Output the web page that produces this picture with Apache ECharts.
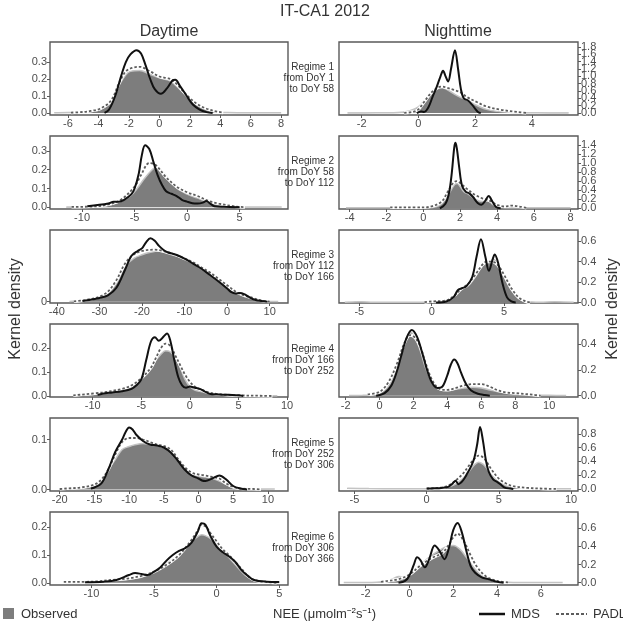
<!DOCTYPE html>
<html><head><meta charset="utf-8">
<script src="https://cdn.jsdelivr.net/npm/echarts@6/dist/echarts.min.js"></script>
<style>html,body{margin:0;padding:0;background:#fff}#c{width:623px;height:628px}</style>
</head><body><div id="c"></div>
<script>
// ---------- DATA ----------
const REGIME_DOY = [[1,58],[58,112],[112,166],[166,252],[252,306],[306,366]];

// Daytime, regime 1
const L1_obs = [[-6.9,0.001],[-6,0.002],[-5,0.005],[-4.5,0.01],[-3.9,0.02],[-3.2,0.06],[-2.6,0.17],[-2.2,0.225],[-1.9,0.245],[-1.3,0.25],[-0.6,0.228],[0,0.207],[0.7,0.19],[1.1,0.16],[1.8,0.1],[2.45,0.05],[3.1,0.024],[3.8,0.006],[4.5,0.002],[6,0.001],[8,0.001]];
const L1_padl = [[-5.8,0.002],[-5,0.006],[-4.5,0.012],[-3.9,0.025],[-3.2,0.07],[-2.6,0.185],[-2.2,0.245],[-1.8,0.265],[-1.3,0.272],[-0.6,0.245],[0,0.215],[0.5,0.205],[0.8,0.197],[1.2,0.165],[1.8,0.105],[2.45,0.055],[3.1,0.025],[3.8,0.008],[4.2,0.002]];
const L1_mds = [[-3.6,0],[-3.3,0.02],[-2.9,0.1],[-2.5,0.22],[-2.2,0.3],[-1.9,0.345],[-1.5,0.37],[-1.2,0.35],[-0.9,0.28],[-0.6,0.2],[-0.3,0.14],[0.1,0.113],[0.5,0.145],[0.85,0.19],[1.05,0.195],[1.35,0.16],[1.8,0.1],[2.2,0.05],[2.65,0.02],[3.1,0.005],[3.5,0]];
// Nighttime, regime 1
const R1_obs = [[-2.5,0.003],[-1.5,0.004],[-0.9,0.008],[-0.6,0.02],[-0.3,0.06],[0,0.17],[0.3,0.42],[0.55,0.64],[0.75,0.73],[0.9,0.68],[1.1,0.6],[1.3,0.5],[1.5,0.42],[1.7,0.36],[2.0,0.23],[2.4,0.1],[2.8,0.045],[3.2,0.02],[3.6,0.008],[4.2,0.004],[5.3,0.003]];
const R1_padl = [[-0.5,0.005],[-0.2,0.03],[0,0.1],[0.2,0.3],[0.45,0.55],[0.7,0.7],[0.85,0.72],[1.0,0.69],[1.25,0.63],[1.47,0.57],[1.7,0.44],[2.06,0.3],[2.4,0.18],[2.9,0.09],[3.5,0.03],[3.8,0.005]];
const R1_mds = [[-0.05,0],[0.1,0.04],[0.2,0.03],[0.35,0.15],[0.5,0.44],[0.65,0.72],[0.78,1.0],[0.87,1.15],[0.96,1.0],[1.05,0.86],[1.15,1.2],[1.29,1.71],[1.4,1.2],[1.5,0.65],[1.6,0.4],[1.75,0.34],[1.9,0.22],[2.0,0.12],[2.1,0.03],[2.2,0]];
// Daytime, regime 2
const L2_obs = [[-11.5,0.001],[-10,0.002],[-8.25,0.005],[-7.3,0.015],[-6.35,0.03],[-5.4,0.06],[-4.76,0.1],[-4.1,0.15],[-3.33,0.2],[-2.9,0.215],[-2.2,0.18],[-1.6,0.14],[-0.95,0.1],[0,0.07],[0.95,0.05],[1.9,0.03],[2.86,0.015],[4.1,0.005],[5.1,0.002],[7,0.001],[9,0.001]];
const L2_padl = [[-11,0.002],[-8.5,0.006],[-7.3,0.018],[-6.3,0.04],[-5,0.11],[-4.4,0.17],[-3.6,0.235],[-3,0.225],[-2,0.16],[-1,0.11],[0,0.08],[1,0.06],[2,0.035],[3,0.02],[4.5,0.005],[5.5,0.001]];
const L2_mds = [[-9.5,0.005],[-7.5,0.02],[-7,0.03],[-6.5,0.03],[-6,0.04],[-5.3,0.07],[-5,0.1],[-4.6,0.18],[-4.3,0.28],[-4.0,0.33],[-3.6,0.31],[-3.2,0.24],[-2.8,0.17],[-2.4,0.12],[-2.0,0.085],[-1.5,0.072],[-1,0.06],[-0.5,0.04],[0,0.03],[0.5,0.022],[1,0.02],[1.5,0.025],[1.8,0.033],[2.2,0.02],[2.6,0.006],[3.5,0.003],[5,0]];
// Nighttime, regime 2
const R2_obs = [[-4.2,0.01],[-2,0.01],[0,0.01],[0.5,0.02],[0.9,0.07],[1.2,0.2],[1.5,0.4],[1.7,0.53],[1.85,0.55],[2.0,0.48],[2.2,0.37],[2.5,0.3],[2.8,0.2],[3.2,0.15],[3.5,0.17],[3.8,0.08],[4.2,0.03],[4.6,0.01],[6,0.01],[8,0.01]];
const R2_padl = [[-1.8,0.02],[0,0.02],[0.5,0.05],[1.0,0.15],[1.3,0.35],[1.6,0.55],[1.8,0.6],[2.0,0.56],[2.4,0.42],[2.8,0.3],[3.2,0.22],[3.6,0.17],[4.0,0.08],[4.4,0.04],[4.8,0.06],[5.2,0.04],[5.6,0.01]];
const R2_mds = [[0.9,0],[1.2,0.1],[1.4,0.35],[1.55,0.8],[1.68,1.35],[1.75,1.45],[1.83,1.3],[1.95,0.9],[2.1,0.5],[2.3,0.37],[2.5,0.33],[2.7,0.25],[2.95,0.12],[3.15,0.08],[3.35,0.16],[3.55,0.27],[3.75,0.15],[3.95,0.03],[4.2,0]];
// Daytime, regime 3
const L3_obs = [[-37,0.0002],[-33,0.0013],[-30,0.003],[-28,0.0066],[-26,0.0145],[-24,0.0276],[-22,0.034],[-20,0.037],[-18,0.039],[-16,0.040],[-14,0.038],[-12,0.036],[-10,0.034],[-8,0.030],[-6,0.027],[-4,0.022],[-2,0.017],[0,0.0126],[2,0.007],[4,0.005],[6,0.0026],[8,0.001],[10,0.0002],[12,0.0001]];
const L3_padl = [[-36,0.0003],[-33,0.0015],[-30,0.004],[-28,0.008],[-26,0.017],[-24,0.03],[-22,0.037],[-20,0.040],[-17,0.041],[-14,0.039],[-12,0.037],[-10,0.034],[-8,0.031],[-6,0.027],[-4,0.023],[-2,0.018],[0,0.013],[2,0.008],[4,0.005],[6,0.003],[8,0.001],[10,0]];
const L3_mds = [[-34,0.0005],[-30,0.003],[-28,0.005],[-26,0.011],[-24,0.025],[-22.5,0.036],[-21,0.04],[-20,0.042],[-19,0.047],[-18,0.05],[-17,0.048],[-16,0.044],[-15,0.041],[-14,0.039],[-12,0.037],[-10,0.034],[-8,0.030],[-6,0.026],[-4,0.021],[-2,0.016],[0,0.0105],[1,0.0075],[2,0.0065],[3,0.0068],[4,0.006],[5,0.004],[6,0.0022],[8,0.0005],[9.5,0]];
// Nighttime, regime 3
const R3_obs = [[-6,0.003],[-5,0.008],[-4,0.003],[-2,0.002],[0,0.005],[1,0.02],[1.5,0.06],[2,0.13],[2.5,0.16],[3,0.25],[3.5,0.36],[4,0.4],[4.3,0.42],[4.6,0.35],[5,0.25],[5.5,0.12],[6,0.04],[6.5,0.01],[7.5,0.003],[8.5,0.008],[9.8,0.003]];
const R3_padl = [[-0.5,0.003],[0,0.01],[1,0.02],[1.5,0.06],[2,0.13],[2.5,0.18],[3,0.27],[3.5,0.37],[3.8,0.4],[4.2,0.4],[4.6,0.36],[5,0.27],[5.5,0.14],[6,0.05],[6.5,0.01],[6.8,0]];
const R3_mds = [[0.3,0],[1,0.01],[1.5,0.05],[1.8,0.12],[2.1,0.14],[2.4,0.16],[2.8,0.25],[3.1,0.45],[3.4,0.62],[3.7,0.45],[3.95,0.31],[4.2,0.42],[4.35,0.47],[4.6,0.38],[4.9,0.18],[5.2,0.05],[5.5,0.01],[5.8,0]];
// Daytime, regime 4
const L4_obs = [[-12,0.002],[-11,0.004],[-9,0.01],[-7,0.025],[-6,0.04],[-5,0.07],[-4.5,0.1],[-4,0.12],[-3.5,0.15],[-3,0.175],[-2.5,0.19],[-2,0.185],[-1.5,0.16],[-1,0.12],[-0.5,0.07],[0,0.04],[0.5,0.025],[1,0.02],[2,0.01],[3,0.005],[5,0.002],[8,0.001],[9,0.001]];
const L4_padl = [[-12,0.003],[-9,0.015],[-7,0.03],[-6,0.045],[-5,0.075],[-4,0.12],[-3.5,0.16],[-3,0.2],[-2.5,0.22],[-2,0.21],[-1.5,0.17],[-1,0.13],[-0.5,0.09],[0,0.06],[0.5,0.04],[1,0.03],[2,0.015],[3,0.008],[5,0.003],[7.5,0.001],[8.5,0]];
const L4_mds = [[-9.5,0.005],[-9,0.01],[-8,0.015],[-7,0.02],[-6,0.03],[-5.5,0.045],[-5,0.07],[-4.5,0.15],[-4,0.23],[-3.6,0.247],[-3.2,0.232],[-2.7,0.25],[-2.35,0.263],[-2,0.23],[-1.6,0.15],[-1.2,0.08],[-0.8,0.045],[-0.4,0.035],[0,0.04],[0.5,0.035],[1,0.03],[1.5,0.02],[2,0.01],[3,0.007],[4,0.005],[5,0.003],[5.5,0]];
// Nighttime, regime 4
const R4_obs = [[-1.8,0.002],[-1,0.003],[-0.5,0.005],[0,0.02],[0.5,0.07],[1,0.2],[1.3,0.33],[1.6,0.44],[1.85,0.49],[2.1,0.45],[2.4,0.35],[2.7,0.22],[3,0.13],[3.3,0.07],[3.6,0.045],[4,0.04],[4.5,0.05],[5,0.06],[5.5,0.065],[6,0.06],[6.5,0.045],[7,0.03],[8,0.015],[9,0.008],[10,0.003],[11,0.001]];
const R4_padl = [[-0.7,0.01],[0,0.03],[0.5,0.1],[1,0.24],[1.5,0.42],[1.8,0.47],[2.1,0.45],[2.4,0.38],[2.7,0.26],[3,0.15],[3.3,0.08],[3.6,0.05],[4,0.045],[4.5,0.06],[5,0.08],[5.5,0.09],[6,0.09],[6.5,0.07],[7,0.04],[7.5,0.025],[8,0.02],[9,0.008],[9.5,0]];
const R4_mds = [[-0.2,0],[0.3,0.02],[0.7,0.08],[1,0.18],[1.3,0.32],[1.6,0.45],[1.9,0.51],[2.2,0.46],[2.5,0.34],[2.8,0.2],[3.1,0.1],[3.4,0.06],[3.7,0.07],[4,0.16],[4.2,0.24],[4.4,0.28],[4.6,0.25],[4.8,0.18],[5.1,0.09],[5.4,0.04],[5.8,0.015],[6.2,0.005],[6.5,0]];
// Daytime, regime 5
const L5_obs = [[-20,0.001],[-17,0.002],[-15,0.008],[-14,0.02],[-13,0.04],[-12,0.06],[-11,0.08],[-10,0.086],[-9,0.09],[-8,0.092],[-7,0.09],[-6,0.088],[-5,0.084],[-4,0.076],[-3,0.062],[-2,0.045],[-1,0.033],[0,0.027],[1,0.025],[2,0.022],[3,0.017],[4,0.01],[5,0.004],[6,0.001],[8,0.001],[11,0.001]];
const L5_padl = [[-20,0.001],[-19,0.002],[-17,0.004],[-15,0.01],[-14,0.02],[-13,0.04],[-12,0.07],[-11,0.095],[-10,0.103],[-9,0.103],[-8,0.1],[-7,0.095],[-6,0.09],[-5,0.087],[-4,0.08],[-3,0.062],[-2,0.045],[-1,0.034],[0,0.03],[1,0.028],[2,0.025],[3,0.022],[4,0.012],[5,0.005],[6,0.002],[8,0.001],[9,0]];
const L5_mds = [[-15.5,0.002],[-15,0.004],[-14,0.012],[-13,0.04],[-12,0.075],[-11,0.1],[-10.5,0.115],[-10,0.124],[-9.5,0.12],[-9,0.11],[-8,0.097],[-7,0.09],[-6,0.088],[-5,0.084],[-4,0.074],[-3,0.058],[-2,0.04],[-1,0.028],[0,0.022],[0.5,0.018],[1,0.017],[2,0.022],[3,0.028],[4,0.02],[5,0.007],[6,0.002],[7,0]];
// Nighttime, regime 5
const R5_obs = [[-5.5,0.01],[-4,0.005],[-2,0.003],[0,0.003],[1,0.01],[1.5,0.03],[2,0.07],[2.5,0.15],[3,0.27],[3.3,0.35],[3.6,0.39],[3.9,0.36],[4.2,0.29],[4.5,0.2],[5,0.1],[5.5,0.05],[6,0.025],[7,0.01],[8,0.005],[9,0.003],[10,0.002]];
const R5_padl = [[0,0.005],[1,0.02],[1.5,0.05],[2,0.12],[2.5,0.22],[3,0.36],[3.3,0.44],[3.6,0.485],[3.9,0.46],[4.2,0.38],[4.5,0.28],[5,0.15],[5.5,0.08],[6,0.04],[7,0.015],[8,0.005],[9,0]];
const R5_mds = [[0,0.005],[0.5,0.01],[1,0.015],[1.5,0.03],[1.8,0.08],[2.0,0.12],[2.2,0.07],[2.5,0.12],[2.8,0.22],[3.1,0.34],[3.3,0.45],[3.5,0.65],[3.7,0.9],[3.9,0.7],[4.1,0.42],[4.3,0.25],[4.6,0.14],[4.9,0.1],[5.1,0.07],[5.4,0.02],[5.8,0.005],[6,0]];
// Daytime, regime 6
const L6_obs = [[-12,0.001],[-10,0.002],[-8,0.008],[-7,0.014],[-6,0.02],[-5,0.04],[-4,0.07],[-3,0.1],[-2.5,0.125],[-2,0.15],[-1.5,0.167],[-1.2,0.173],[-1,0.172],[-0.5,0.16],[0,0.14],[0.5,0.115],[1,0.09],[1.5,0.065],[2,0.04],[2.5,0.02],[3,0.01],[4,0.003],[5,0.001]];
const L6_padl = [[-12.2,0.003],[-10,0.004],[-8,0.012],[-7,0.016],[-6,0.025],[-5,0.04],[-4,0.065],[-3,0.1],[-2,0.155],[-1.5,0.19],[-1.2,0.21],[-0.8,0.2],[-0.5,0.18],[0,0.15],[0.5,0.12],[1,0.1],[1.5,0.075],[2,0.05],[2.5,0.025],[3,0.01],[4,0.003],[4.8,0]];
const L6_mds = [[-10.5,0.002],[-9,0.004],[-8,0.01],[-7,0.028],[-6.5,0.035],[-6,0.032],[-5.5,0.028],[-5,0.04],[-4.5,0.055],[-4,0.08],[-3.5,0.1],[-3,0.115],[-2.5,0.125],[-2,0.145],[-1.5,0.185],[-1.2,0.215],[-0.9,0.21],[-0.5,0.17],[0,0.13],[0.5,0.11],[1,0.095],[1.5,0.075],[2,0.045],[2.5,0.025],[3,0.01],[4,0.004],[5,0.003]];
// Nighttime, regime 6
const R6_obs = [[-3,0.003],[-2,0.003],[-1.5,0.005],[-1,0.02],[-0.7,0.05],[-0.5,0.07],[-0.2,0.06],[0,0.08],[0.3,0.15],[0.6,0.22],[1,0.3],[1.4,0.36],[1.7,0.4],[2,0.41],[2.3,0.37],[2.6,0.28],[2.9,0.18],[3.2,0.1],[3.6,0.04],[4,0.015],[4.5,0.005],[5,0.002],[7,0.002]];
const R6_padl = [[-1.3,0.01],[-1,0.02],[-0.5,0.04],[0,0.09],[0.5,0.19],[1,0.27],[1.5,0.33],[1.8,0.42],[2.0,0.5],[2.2,0.54],[2.5,0.45],[2.8,0.3],[3.1,0.17],[3.5,0.07],[4,0.02],[4.5,0.005]];
const R6_mds = [[-0.5,0],[-0.2,0.02],[0,0.08],[0.2,0.2],[0.35,0.28],[0.5,0.25],[0.7,0.17],[0.9,0.26],[1.15,0.41],[1.35,0.36],[1.6,0.26],[1.8,0.38],[2.0,0.58],[2.2,0.66],[2.4,0.55],[2.6,0.35],[2.8,0.18],[3.0,0.11],[3.3,0.06],[3.6,0.04],[4,0.01],[4.3,0]];

// tick labels
const L1_xt=[-6,-4,-2,0,2,4,6,8], L1_yt=[0,0.1,0.2,0.3];
const R1_xt=[-2,0,2,4], R1_yt=[0,0.2,0.4,0.6,0.8,1.0,1.2,1.4,1.6,1.8];
const L2_xt=[-10,-5,0,5], L2_yt=[0,0.1,0.2,0.3];
const R2_xt=[-4,-2,0,2,4,6,8], R2_yt=[0,0.2,0.4,0.6,0.8,1.0,1.2,1.4];
const L3_xt=[-40,-30,-20,-10,0,10], L3_yt=[0];
const R3_xt=[-5,0,5], R3_yt=[0,0.2,0.4,0.6];
const L4_xt=[-10,-5,0,5,10], L4_yt=[0,0.1,0.2];
const R4_xt=[-2,0,2,4,6,8,10], R4_yt=[0,0.2,0.4];
const L5_xt=[-20,-15,-10,-5,0,5,10], L5_yt=[0,0.1];
const R5_xt=[-5,0,5,10], R5_yt=[0,0.2,0.4,0.6,0.8];
const L6_xt=[-10,-5,0,5], L6_yt=[0,0.1,0.2];
const R6_xt=[-2,0,2,4,6], R6_yt=[0,0.2,0.4,0.6];

// axis ranges
const X_RANGE = {L1:[-7.18,8.45],R1:[-2.8,5.63],L2:[-13.05,9.6],R2:[-4.58,8.4],L3:[-41.6,14.3],R3:[-6.4,10.1],L4:[-14.4,10.1],R4:[-2.39,11.7],L5:[-21.4,12.9],R5:[-6.07,10.48],L6:[-13.3,5.7],R6:[-3.22,7.7]};
const Y_RANGE = {L1:[-0.012,0.418],R1:[-0.054,1.935],L2:[-0.009,0.379],R2:[-0.015,1.6],L3:[-0.001,0.0565],R3:[-0.005,0.71],L4:[-0.004,0.3025],R4:[-0.01,0.556],L5:[-0.003,0.143],R5:[-0.03,1.032],L6:[-0.008,0.2555],R6:[-0.025,0.78]};

const PANELS = [
 ['L1',L1_obs,L1_padl,L1_mds,L1_xt,L1_yt],['R1',R1_obs,R1_padl,R1_mds,R1_xt,R1_yt],
 ['L2',L2_obs,L2_padl,L2_mds,L2_xt,L2_yt],['R2',R2_obs,R2_padl,R2_mds,R2_xt,R2_yt],
 ['L3',L3_obs,L3_padl,L3_mds,L3_xt,L3_yt],['R3',R3_obs,R3_padl,R3_mds,R3_xt,R3_yt],
 ['L4',L4_obs,L4_padl,L4_mds,L4_xt,L4_yt],['R4',R4_obs,R4_padl,R4_mds,R4_xt,R4_yt],
 ['L5',L5_obs,L5_padl,L5_mds,L5_xt,L5_yt],['R5',R5_obs,R5_padl,R5_mds,R5_xt,R5_yt],
 ['L6',L6_obs,L6_padl,L6_mds,L6_xt,L6_yt],['R6',R6_obs,R6_padl,R6_mds,R6_xt,R6_yt]
];

// ---------- CHART ----------
const FONT = '"Liberation Sans", Arial, sans-serif';
const TXT = '#4d4d4d';
const grids=[], xAxes=[], yAxes=[], extraY=[], series=[], graphics=[];
const ROW_TOP = 42, ROW_STEP = 94, PH = 73;
function yAxisDef(i, id, right, vals) {
  return {type:'value', gridIndex:i, position: right ? 'right' : 'left',
    min:Y_RANGE[id][0], max:Y_RANGE[id][1],
    axisLine:{show:false, onZero:false}, splitLine:{show:false},
    axisTick:{show:true, length:3, customValues:vals, lineStyle:{color:'#5a5a5a'}},
    axisLabel:{customValues:vals, fontSize:11, color:TXT, margin:3, fontFamily:FONT, hideOverlap:false, showMinLabel:true, showMaxLabel:true,
      formatter: v => (id === 'L3' ? String(Math.round(v)) : Number(v).toFixed(1))}};
}
PANELS.forEach((p, i) => {
  const [id, obs, padl, mds, xt, yt] = p;
  const right = id[0] === 'R';
  const row = +id[1] - 1;
  const top = ROW_TOP + row * ROW_STEP;
  const dense = yt.length > 6;
  grids.push({left: right ? 339 : 50, top: top, width: right ? 239 : 238, height: PH,
    show: true, borderColor: '#5a5a5a', borderWidth: 1.4, backgroundColor: '#fff'});
  xAxes.push({type:'value', gridIndex:i, min:X_RANGE[id][0], max:X_RANGE[id][1], position:'bottom',
    axisLine:{show:false, onZero:false}, splitLine:{show:false},
    axisTick:{show:true, length:3, customValues:xt, lineStyle:{color:'#5a5a5a'}},
    axisLabel:{customValues:xt, fontSize:11, color:TXT, margin:3, fontFamily:FONT, hideOverlap:false, showMinLabel:true, showMaxLabel:true}});
  if (dense) {
    // crowded tick labels: split between two coincident axes so none are dropped
    yAxes.push(yAxisDef(i, id, right, yt.filter((v, k) => k % 2 === 0)));
    extraY.push(yAxisDef(i, id, right, yt.filter((v, k) => k % 2 === 1)));
  } else {
    yAxes.push(yAxisDef(i, id, right, yt));
  }
  const base = {type:'line', xAxisIndex:i, yAxisIndex:i, showSymbol:false, smooth:0.35, silent:true, animation:false};
  series.push(Object.assign({}, base, {name:'Observed', data:obs,
    lineStyle:{color:'#c4c4c4', width:1.5}, areaStyle:{color:'#7d7d7d', opacity:1}}));
  series.push(Object.assign({}, base, {name:'PADL_bg', data:padl,
    lineStyle:{color:'#ffffff', width:3.2}}));
  series.push(Object.assign({}, base, {name:'PADL', data:padl,
    lineStyle:{color:'#5c5c5c', width:1.8, type:[2.5,2]}}));
  series.push(Object.assign({}, base, {name:'MDS', data:mds,
    lineStyle:{color:'#111', width:2}}));
  // regime label
  const cy = top + PH / 2;
  const lines = ['Regime ' + (row + 1), 'from DoY ' + REGIME_DOY[row][0], 'to DoY ' + REGIME_DOY[row][1]];
  if (!right) lines.forEach((t, k) => graphics.push({type:'text', x:334, y:cy + (k - 1) * 11,
    style:{text:t, fill:'#333', font:'10px ' + FONT, align:'right', verticalAlign:'middle'}}));
});

graphics.push(
  {type:'text', x:325, y:12, style:{text:'IT-CA1 2012', fill:'#333', font:'16px ' + FONT, align:'center', verticalAlign:'middle'}},
  {type:'text', x:169, y:32, style:{text:'Daytime', fill:'#333', font:'16px ' + FONT, align:'center', verticalAlign:'middle'}},
  {type:'text', x:458, y:32, style:{text:'Nighttime', fill:'#333', font:'16px ' + FONT, align:'center', verticalAlign:'middle'}},
  {type:'text', x:16, y:309, rotation:Math.PI/2, style:{text:'Kernel density', fill:'#333', font:'16px ' + FONT, align:'center', verticalAlign:'middle'}},
  {type:'text', x:613, y:309, rotation:Math.PI/2, style:{text:'Kernel density', fill:'#333', font:'16px ' + FONT, align:'center', verticalAlign:'middle'}},
  {type:'rect', shape:{x:3, y:608, width:11, height:11}, style:{fill:'#7d7d7d'}},
  {type:'text', x:21, y:614, style:{text:'Observed', fill:'#333', font:'13px ' + FONT, align:'left', verticalAlign:'middle'}},
  {type:'text', x:273, y:614, style:{
    text:'{n|NEE (μmolm}{s|−2}{n|s}{s|−1}{n|)}', align:'left', verticalAlign:'middle',
    rich:{n:{fontSize:13, fontFamily:FONT, fill:'#333', color:'#333'}, s:{fontSize:8, fontFamily:FONT, color:'#333', verticalAlign:'top', padding:[0,0,7,0]}}}},
  {type:'line', shape:{x1:479, y1:614, x2:505, y2:614}, style:{stroke:'#111', lineWidth:2.5}},
  {type:'text', x:511, y:614, style:{text:'MDS', fill:'#333', font:'13px ' + FONT, align:'left', verticalAlign:'middle'}},
  {type:'line', shape:{x1:556, y1:614, x2:587, y2:614}, style:{stroke:'#5c5c5c', lineWidth:2, lineDash:[3,2]}},
  {type:'text', x:593, y:614, style:{text:'PADL', fill:'#333', font:'13px ' + FONT, align:'left', verticalAlign:'middle'}}
);

const chart = echarts.init(document.getElementById('c'), null, {renderer:'canvas'});
chart.setOption({animation:false, backgroundColor:'#fff', grid:grids, xAxis:xAxes, yAxis:yAxes.concat(extraY), series:series, graphic:graphics});
</script></body></html>
